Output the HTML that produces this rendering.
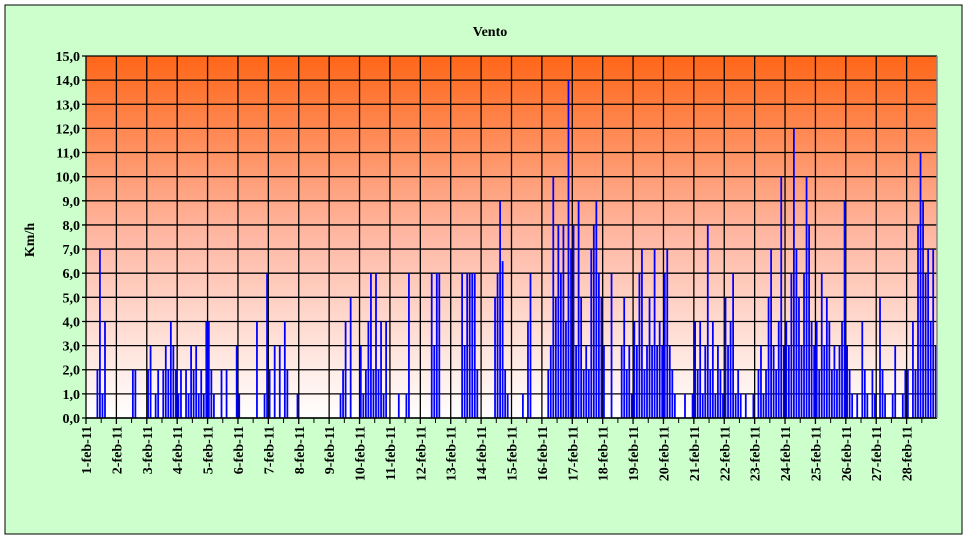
<!DOCTYPE html>
<html><head><meta charset="utf-8"><style>
body{margin:0;width:970px;height:539px;background:#fff;overflow:hidden}
svg{display:block}
text{font-family:"Liberation Serif",serif}
</style></head><body>
<svg width="970" height="539">
<defs><linearGradient id="bg" x1="0" y1="0" x2="0" y2="1">
<stop offset="0" stop-color="#ff6618"/><stop offset="0.5" stop-color="#ffb8a4"/><stop offset="1" stop-color="#ffffff"/></linearGradient></defs>
<rect x="5" y="5" width="957" height="529" fill="#ccffcc" stroke="#000"/>
<text x="490" y="36" text-anchor="middle" font-size="14" font-weight="bold">Vento</text>
<text transform="translate(34,240) rotate(-90)" text-anchor="middle" font-size="14" font-weight="bold">Km/h</text>
<rect x="86" y="56" width="851" height="362" fill="url(#bg)"/>
<g id="grid"></g>
<g id="series"></g>
<g id="axes"></g>
</svg>
<script>
const days=["1-feb-11","2-feb-11","3-feb-11","4-feb-11","5-feb-11","6-feb-11","7-feb-11","8-feb-11","9-feb-11","10-feb-11","11-feb-11","12-feb-11","13-feb-11","14-feb-11","15-feb-11","16-feb-11","17-feb-11","18-feb-11","19-feb-11","20-feb-11","21-feb-11","22-feb-11","23-feb-11","24-feb-11","25-feb-11","26-feb-11","27-feb-11","28-feb-11"];
const yTicks=["0,0","1,0","2,0","3,0","4,0","5,0","6,0","7,0","8,0","9,0","10,0","11,0","12,0","13,0","14,0","15,0"];
const wind=[
0,0,0,0,2,7,1,4,0,0,0,0,
0,0,0,0,0,0,2,2,0,0,0,0,
2,3,0,1,2,0,2,3,2,4,3,2,
1,2,0,2,1,3,2,3,1,2,1,4,
4,2,1,0,0,2,0,2,0,0,0,3,
1,0,0,0,0,0,0,4,0,0,1,6,
2,0,3,0,3,0,4,2,0,0,0,1,
0,0,0,0,0,0,0,0,0,0,0,0,
0,0,0,0,1,2,4,0,5,0,0,0,
3,1,2,4,6,2,6,2,4,1,4,0,
0,0,0,1,0,0,1,6,0,0,0,0,
0,0,0,0,6,3,6,6,0,0,0,0,
0,0,0,0,6,3,6,6,6,6,2,0,
0,0,0,0,0,5,6,9,6.5,2,1,0,
0,0,0,0,1,0,4,6,0,0,0,0,
0,0,2,3,10,5,8,6,8,4,14,7,
8,3,9,5,2,3,2,7,8,9,6,5,
3,0,0,6,0,0,0,3,5,2,3,1,
4,3,6,7,2,3,5,3,7,3,4,3,
6,7,3,2,1,0,0,0,1,0,0,1,
4,2,4,1,3,8,2,4,1,3,2,1,
5,3,4,6,1,2,1,0,1,0,0,1,
0,2,3,1,2,5,7,3,2,4,10,3,
4,3,6,12,7,5,3,6,10,8,4,3,
4,2,6,3,5,4,2,3,2,3,4,9,
3,2,1,0,1,0,4,2,1,0,2,1,
0,5,2,1,0,0,1,3,0,0,1,2,
2,0,4,2,8,11,9,6,7,4,7,3];
const NS="http://www.w3.org/2000/svg";
const X0=86,X1=937,Y0=418,Y1=56,YMAX=15;
const dayW=(X1-X0)/days.length;
const step=(X1-X0)/wind.length;
const xs=i=>X0+(i+0.5)*step;
const ys=v=>Y0-(v/YMAX)*(Y0-Y1);
const grid=document.getElementById('grid'),axes=document.getElementById('axes'),series=document.getElementById('series');
function mk(tag,attrs,parent){const e=document.createElementNS(NS,tag);for(const k in attrs)e.setAttribute(k,attrs[k]);parent.appendChild(e);return e;}
yTicks.forEach((t,i)=>{
 const y=ys(i);
 const l=mk('line',{x1:X0-4,x2:X1,y1:y,y2:y,stroke:'#000','stroke-width':1.3},grid);
 
 
 const tx=mk('text',{x:X0-6,y:y+5,'text-anchor':'end','font-size':14,'font-weight':'bold'},axes);
 tx.textContent=t;
 
 
});
days.forEach((d,i)=>{
 const x=X0+i*dayW;
 const l=mk('line',{x1:x,x2:x,y1:Y1,y2:Y0+6,stroke:'#000','stroke-width':1.3},grid);
 
 
 const t2=mk('line',{x1:x+dayW/2,x2:x+dayW/2,y1:Y0,y2:Y0+5,stroke:'#000','stroke-width':1},axes);
 
 
 const tx=mk('text',{transform:`translate(${x+5},${Y0+8}) rotate(-90)`,'text-anchor':'end','font-size':14,'font-weight':'bold'},axes);
 tx.textContent=d;
 
 
});
wind.forEach((v,i)=>{
 if(v<=0)return;
 const y=ys(v);
 const r=mk('rect',{x:(xs(i)-step*0.35).toFixed(2),y:y.toFixed(2),width:(step*0.7).toFixed(2),height:(Y0-y).toFixed(2),fill:'#0000ff'},series);
 
 
});
const ax=mk('line',{x1:X0,x2:X1,y1:Y0,y2:Y0,stroke:'#000','stroke-width':1.5},axes);


const rb=mk('line',{x1:X1,x2:X1,y1:Y1,y2:Y0,stroke:'#888','stroke-width':1.5},axes);


</script>
</body></html>
